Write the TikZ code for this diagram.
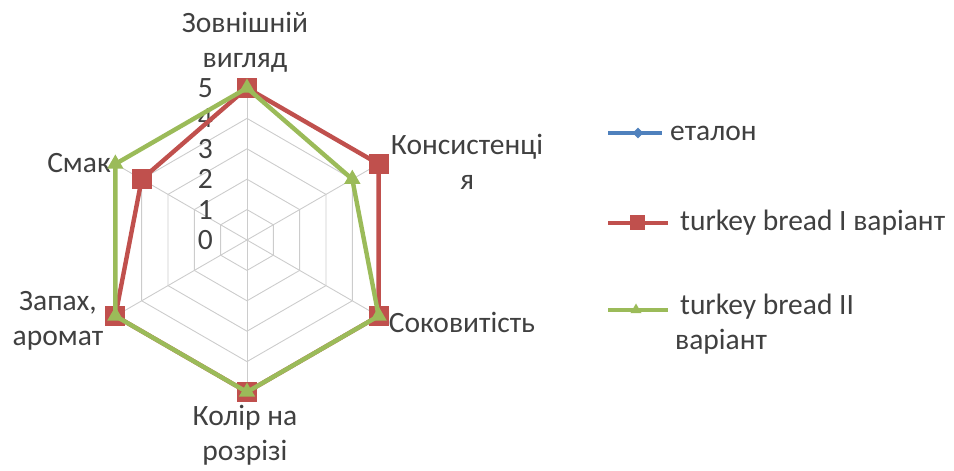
\documentclass[tikz,border=0pt]{standalone}
\usepackage{fontspec}
\setmainfont{Carlito}
\usetikzlibrary{shapes.geometric}
\definecolor{etalon}{HTML}{4F81BD}
\definecolor{varone}{HTML}{C0504D}
\definecolor{vartwo}{HTML}{9BBB59}
\definecolor{txt}{HTML}{404040}
\tikzset{
  web/.style={draw=black!20, line width=0.9pt},
  seriesline/.style={line width=4.4pt, line join=round},
  legline/.style={line width=3.2pt},
  sqmark/.style={rectangle, fill=varone, minimum size=20pt, inner sep=0pt},
  trimark/.style={regular polygon, regular polygon sides=3, fill=vartwo, minimum size=19pt, inner sep=0pt},
  lab/.style={text=txt, font=\fontsize{29.5}{35}\selectfont, align=center},
}
\begin{document}
\begin{tikzpicture}[x=1pt,y=1pt]
\useasboundingbox (-247,-231) rectangle (707,240);
% web
\foreach \r in {1,...,5}
  \draw[web] (90:{\r*30.4}) -- (30:{\r*30.4}) -- (-30:{\r*30.4}) -- (-90:{\r*30.4}) -- (-150:{\r*30.4}) -- (150:{\r*30.4}) -- cycle;
\foreach \a in {90,30,-30,-90,-150,150}
  \draw[web] (0,0) -- (\a:152);
% scale
\foreach \r in {0,...,5}
  \node[lab, anchor=east, inner sep=1pt] (s\r) at (-33,{\r*30.4}) {\r};
% axis labels
\node[lab] (look) at (-2,198) {Зовнішній\\вигляд};
\node[lab] (cons) at (220,78) {Консистенці\\я};
\node[lab] (juice) at (215,-82) {Соковитість};
\node[lab] (colour) at (-2,-195) {Колір на\\розрізі};
\node[lab] (smell) at (-189,-81) {Запах,\\аромат};
\node[lab] (taste) at (-168,77) {Смак};
% turkey bread I
\foreach \a/\v [count=\i] in {90/5,30/5,-30/5,-90/5,-150/5,150/4}
  \coordinate (r\i) at (\a:{\v*30.4});
\draw[seriesline, varone] (r1) -- (r2) -- (r3) -- (r4) -- (r5) -- (r6) -- cycle;
\foreach \i in {1,...,6}
  \node[sqmark] (rm\i) at (r\i) {};
% turkey bread II
\foreach \a/\v [count=\i] in {90/5,30/4,-30/5,-90/5,-150/5,150/5}
  \coordinate (g\i) at (\a:{\v*30.4});
\draw[seriesline, vartwo] (g1) -- (g2) -- (g3) -- (g4) -- (g5) -- (g6) -- cycle;
\foreach \i in {1,...,6}
  \node[trimark] (gm\i) at (g\i) {};
% legend
\coordinate (la1) at (361,107); \coordinate (lb1) at (415,107);
\draw[legline, etalon] (la1) -- (lb1);
\node[diamond, fill=etalon, minimum size=11pt, inner sep=0pt] (lm1) at (391,107) {};
\node[lab, anchor=west, inner sep=0pt] (lt1) at (423,107) {еталон};
\coordinate (la2) at (361,17); \coordinate (lb2) at (421,17);
\draw[legline, varone] (la2) -- (lb2);
\node[rectangle, fill=varone, minimum size=15pt, inner sep=0pt] (lm2) at (390,17) {};
\node[lab, anchor=west, inner sep=0pt] (lt2) at (433,17) {turkey bread I варіант};
\coordinate (la3) at (361,-70); \coordinate (lb3) at (421,-70);
\draw[legline, vartwo] (la3) -- (lb3);
\node[regular polygon, regular polygon sides=3, fill=vartwo, minimum size=13pt, inner sep=0pt] (lm3) at (389,-70) {};
\node[lab, anchor=north west, inner sep=0pt, align=left] (lt3) at (428,-54) {\,turkey bread II\\варіант};
\end{tikzpicture}
\end{document}
